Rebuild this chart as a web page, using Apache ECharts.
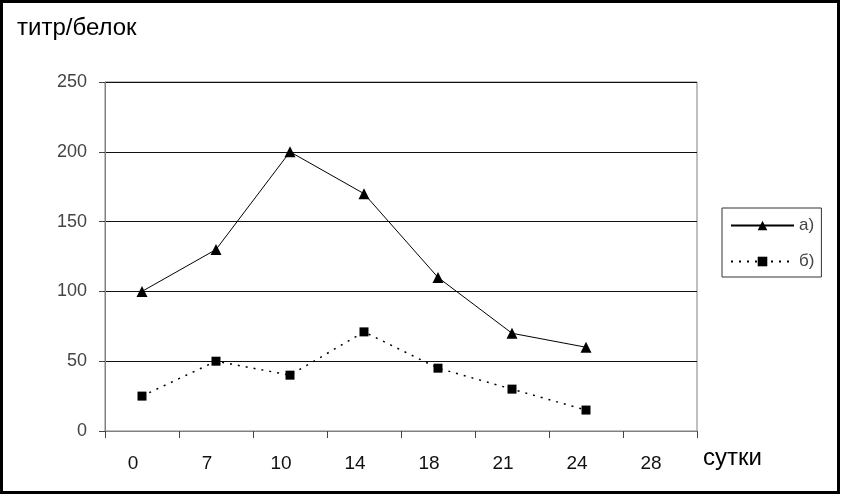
<!DOCTYPE html>
<html>
<head>
<meta charset="utf-8">
<script src="https://cdn.jsdelivr.net/npm/echarts@6/dist/echarts.min.js"></script>
<style>html,body{margin:0;padding:0;background:#fff}#c{width:841px;height:497px}</style>
</head>
<body>
<div id="c"></div>
<script>
var categories = ['0', '7', '10', '14', '18', '21', '24', '28'];
var seriesA = [100, 130, 200, 170, 110, 70, 60];
var seriesB = [25, 50, 40, 71, 45, 30, 15];
var yTicks = {min: 0, max: 250, interval: 50};
var chart = echarts.init(document.getElementById('c'), null, {renderer: 'canvas'});
var font = 'Liberation Sans, Arial, sans-serif';
chart.setOption({
  backgroundColor: '#fff',
  animation: false,
  graphic: [
    {type: 'rect', shape: {x: 1.5, y: 1.5, width: 837, height: 491}, style: {fill: 'none', stroke: '#000', lineWidth: 3}},
    {type: 'text', left: 17, top: 16, style: {text: 'титр/белок', font: '24px ' + font, fill: '#000'}}
  ],
  grid: {left: 105, right: 144, top: 82, bottom: 66, show: true, borderColor: '#808080', borderWidth: 1, backgroundColor: 'transparent'},
  legend: {
    orient: 'vertical', left: 722, top: 208,
    padding: [9, 7, 7, 8],
    itemWidth: 63, itemHeight: 12, itemGap: 19,
    borderColor: '#333', borderWidth: 1,
    textStyle: {fontFamily: font, fontSize: 17, color: '#444'},
    data: ['а)', 'б)']
  },
  xAxis: {
    type: 'category', data: categories, boundaryGap: true,
    name: 'сутки', nameLocation: 'end', nameGap: 6,
    nameTextStyle: {fontFamily: font, fontSize: 24, color: '#000', verticalAlign: 'top', align: 'left', padding: [15, 0, 0, 0]},
    axisLine: {lineStyle: {color: '#808080', width: 1}},
    axisTick: {show: true, length: 7, inside: false, alignWithLabel: false, lineStyle: {color: '#444'}},
    axisLabel: {fontFamily: font, fontSize: 19, color: '#111', margin: 23, padding: [0, 18, 0, 0]},
    splitLine: {show: false}
  },
  yAxis: {
    type: 'value', min: yTicks.min, max: yTicks.max, interval: yTicks.interval,
    axisLine: {show: true, lineStyle: {color: '#808080', width: 1}},
    axisTick: {show: true, length: 6, lineStyle: {color: '#444'}},
    axisLabel: {fontFamily: font, fontSize: 18, color: '#444', margin: 18},
    splitLine: {show: true, lineStyle: {color: '#111', width: 1}}
  },
  series: [
    {
      name: 'а)', type: 'line', data: seriesA,
      symbol: 'triangle', symbolSize: 11,
      lineStyle: {color: '#000', width: 1},
      itemStyle: {color: '#000'}
    },
    {
      name: 'б)', type: 'line', data: seriesB,
      symbol: 'rect', symbolSize: 9,
      lineStyle: {color: '#000', width: 1.5, type: [2, 6]},
      itemStyle: {color: '#000'}
    }
  ]
});
</script>
</body>
</html>
